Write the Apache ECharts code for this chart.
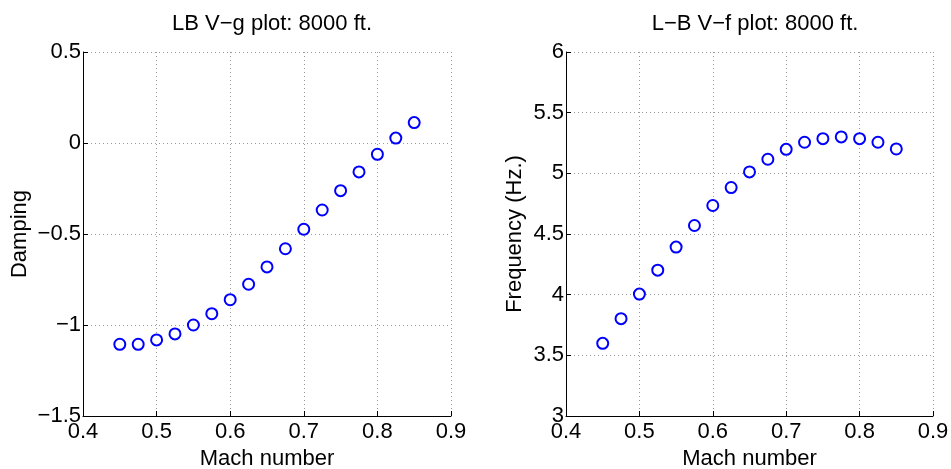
<!DOCTYPE html>
<html>
<head>
<meta charset="utf-8">
<script src="https://cdn.jsdelivr.net/npm/echarts@6/dist/echarts.min.js"></script>
<style>
  html, body { margin: 0; padding: 0; background: #fff; }
  #chart { width: 951px; height: 469px; }
</style>
</head>
<body>
<div id="chart"></div>
<script>
// Mach number for every point (both plots share it)
var mach = [0.45, 0.475, 0.5, 0.525, 0.55, 0.575, 0.6, 0.625, 0.65, 0.675, 0.7, 0.725, 0.75, 0.775, 0.8, 0.825, 0.85];
// left plot: damping
var damping = [-1.106, -1.106, -1.082, -1.049, -1.0, -0.938, -0.861, -0.776, -0.681, -0.581, -0.474, -0.368, -0.262, -0.159, -0.062, 0.027, 0.112];
// right plot: frequency (Hz.)
var frequency = [3.599, 3.802, 4.005, 4.202, 4.392, 4.570, 4.735, 4.883, 5.012, 5.116, 5.198, 5.256, 5.286, 5.300, 5.286, 5.256, 5.201];

var titles = ['LB V\u2212g plot: 8000 ft.', 'L\u2212B V\u2212f plot: 8000 ft.'];
var fontFam = 'Liberation Sans, Arial, sans-serif';

function pairs(xs, ys) {
  return xs.map(function (x, i) { return [x, ys[i]]; });
}
function minusFmt(v) {
  return String(+v.toFixed(2)).replace('-', '\u2212');
}

function xAx(idx) {
  return {
    type: 'value', gridIndex: idx, min: 0.4, max: 0.9, interval: 0.1,
    name: 'Mach number', nameLocation: 'middle', nameGap: 32,
    nameTextStyle: { color: '#000', fontSize: 22, fontFamily: fontFam },
    axisLine: { show: true, onZero: false, lineStyle: { color: '#000', width: 1 } },
    axisTick: { show: true, inside: true, length: 5, lineStyle: { color: '#000' } },
    axisLabel: { color: '#000', fontSize: 22, fontFamily: fontFam, margin: 5, formatter: minusFmt },
    splitLine: { show: true, lineStyle: { color: '#999', type: [1, 3], width: 1 } }
  };
}
function yAx(idx, min, max, interval, name, gap) {
  return {
    type: 'value', gridIndex: idx, min: min, max: max, interval: interval,
    name: name, nameLocation: 'middle', nameGap: gap,
    nameTextStyle: { color: '#000', fontSize: 22, fontFamily: fontFam },
    axisLine: { show: true, onZero: false, lineStyle: { color: '#000', width: 1 } },
    axisTick: { show: true, inside: true, length: 5, lineStyle: { color: '#000' } },
    axisLabel: { color: '#000', fontSize: 22, fontFamily: fontFam, margin: 2, formatter: minusFmt },
    splitLine: { show: true, lineStyle: { color: '#999', type: [1, 3], width: 1 } }
  };
}
function scat(idx, data) {
  return {
    type: 'scatter', xAxisIndex: idx, yAxisIndex: idx,
    data: data, symbol: 'emptyCircle', symbolSize: 11,
    itemStyle: { color: '#0000ff', borderColor: '#0000ff', borderWidth: 3, opacity: 1 },
    silent: true
  };
}

var chart = echarts.init(document.getElementById('chart'));
chart.setOption({
  animation: false,
  backgroundColor: '#fff',
  title: [
    { text: titles[0], left: 267, top: 8, textAlign: 'center',
      textStyle: { fontSize: 22, fontWeight: 'normal', color: '#000', fontFamily: fontFam } },
    { text: titles[1], left: 750, top: 8, textAlign: 'center',
      textStyle: { fontSize: 22, fontWeight: 'normal', color: '#000', fontFamily: fontFam } }
  ],
  grid: [
    { left: 83, top: 52, width: 368, height: 364, outerBoundsMode: 'none' },
    { left: 566, top: 52, width: 367, height: 364, outerBoundsMode: 'none' }
  ],
  xAxis: [xAx(0), xAx(1)],
  yAxis: [
    yAx(0, -1.5, 0.5, 0.5, 'Damping', 52),
    yAx(1, 3, 6, 0.5, 'Frequency (Hz.)', 40)
  ],
  series: [
    scat(0, pairs(mach, damping)),
    scat(1, pairs(mach, frequency))
  ]
});
</script>
</body>
</html>
